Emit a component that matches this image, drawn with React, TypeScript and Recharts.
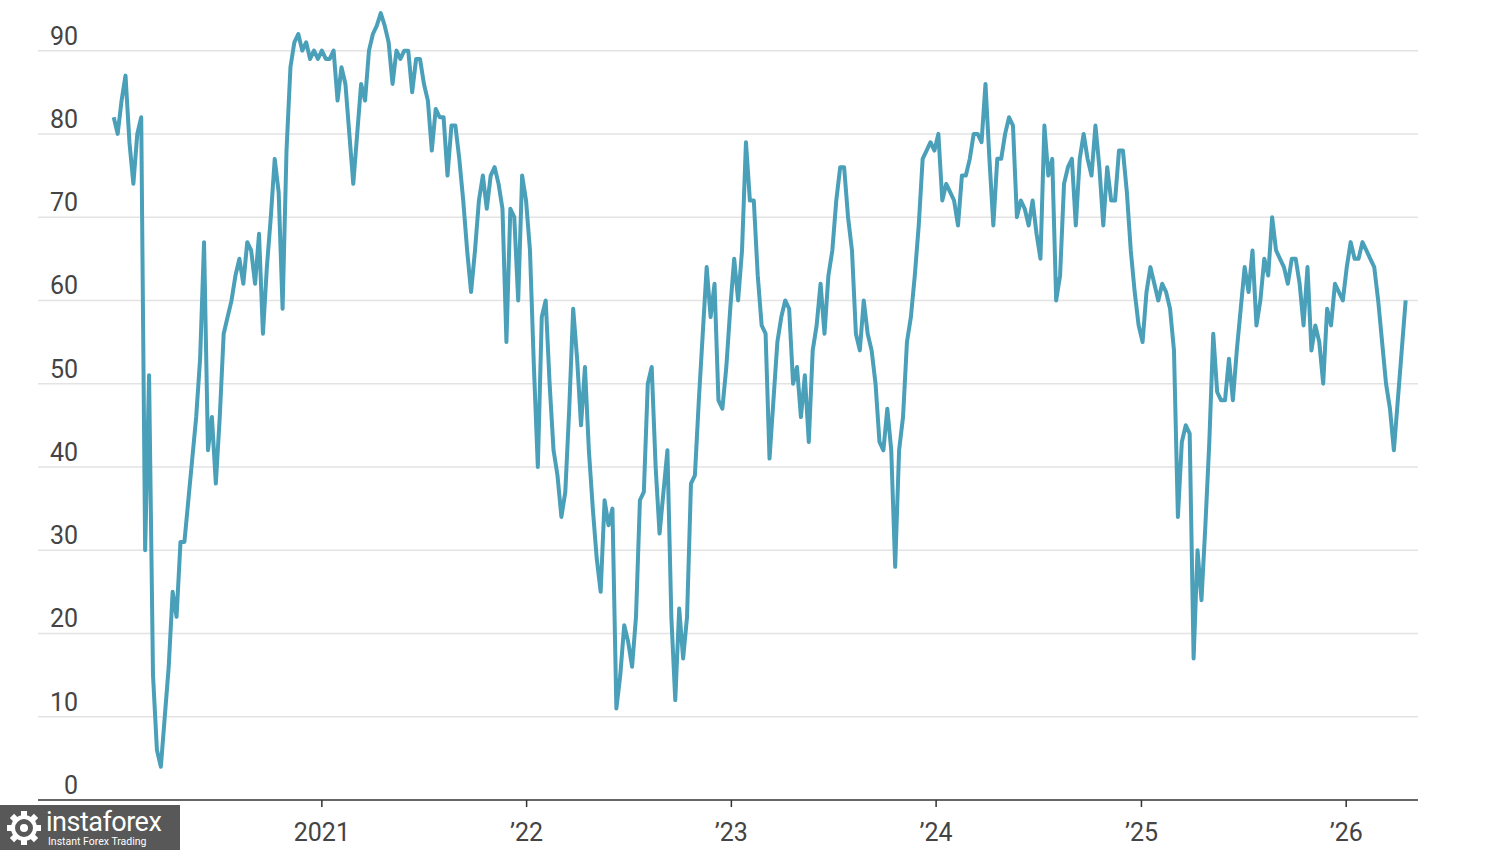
import React from "react";
import { LineChart, Line, XAxis, YAxis, CartesianGrid } from "recharts";

// weekly readings, one array per calendar year (first point: late Dec 2019)
const v2020 = [82, 80, 84, 87, 79, 74, 80, 82, 30, 51, 15, 6, 4, 10, 16, 25, 22, 31, 31, 36, 41, 46, 53, 67, 42, 46, 38, 46, 56, 58, 60, 63, 65, 62, 67, 66, 62, 68, 56, 64, 70, 77, 73, 59, 78, 88, 91, 92, 90, 91, 89, 90, 89];
const v2021 = [90, 89, 89, 90, 84, 88, 86, 80, 74, 80, 86, 84, 90, 92, 93, 94.5, 93, 91, 86, 90, 89, 90, 90, 85, 89, 89, 86, 84, 78, 83, 82, 82, 75, 81, 81, 77, 72, 66, 61, 66, 72, 75, 71, 75, 76, 74, 71, 55, 71, 70, 60, 75];
const v2022 = [72, 66, 52, 40, 58, 60, 50, 42, 39, 34, 37, 47, 59, 53, 45, 52, 42, 35, 29, 25, 36, 33, 35, 11, 15, 21, 19, 16, 22, 36, 37, 50, 52, 40, 32, 37, 42, 22, 12, 23, 17, 22, 38, 39, 48, 56, 64, 58, 62, 48, 47, 52];
const v2023 = [59, 65, 60, 66, 79, 72, 72, 63, 57, 56, 41, 48, 55, 58, 60, 59, 50, 52, 46, 51, 43, 54, 57, 62, 56, 63, 66, 72, 76, 76, 70, 66, 56, 54, 60, 56, 54, 50, 43, 42, 47, 42, 28, 42, 46, 55, 58, 63, 69, 77, 78, 79];
const v2024 = [78, 80, 72, 74, 73, 72, 69, 75, 75, 77, 80, 80, 79, 86, 77, 69, 77, 77, 80, 82, 81, 70, 72, 71, 69, 72, 68, 65, 81, 75, 77, 60, 63, 74, 76, 77, 69, 77, 80, 77, 75, 81, 76, 69, 76, 72, 72, 78, 78, 73, 66, 61];
const v2025 = [57, 55, 61, 64, 62, 60, 62, 61, 59, 54, 34, 43, 45, 44, 17, 30, 24, 33, 43, 56, 49, 48, 48, 53, 48, 54, 59, 64, 61, 66, 57, 60, 65, 63, 70, 66, 65, 64, 62, 65, 65, 62, 57, 64, 54, 57, 55, 50, 59, 57, 62, 61];
const v2026 = [60, 64, 67, 65, 65, 67, 66, 65, 64, 60, 55, 50, 47, 42, 48, 54, 60];

const values = [...v2020, ...v2021, ...v2022, ...v2023, ...v2024, ...v2025, ...v2026];

const START = Date.UTC(2019, 11, 27);
const WEEK = 7 * 24 * 3600 * 1000;
const data = values.map((v, i) => ({ t: START + i * WEEK, v }));

const yTicks = [0, 10, 20, 30, 40, 50, 60, 70, 80, 90];
const gridValues = [10, 20, 30, 40, 50, 60, 70, 80, 90];
const tickYears = [2021, 2022, 2023, 2024, 2025, 2026];
const xTicks = tickYears.map((y) => Date.UTC(y, 0, 1));
const xDomain = [Date.UTC(2019, 7, 14), Date.UTC(2026, 4, 9)];

const FONT = "Roboto, 'Liberation Sans', sans-serif";
const LABEL = "#444444";

const YTick = (props: any) => {
  const { y, payload } = props;
  return (
    <text x={78} y={y - 6} textAnchor="end" fill={LABEL} fontSize={25} fontFamily={FONT}>
      {payload.value}
    </text>
  );
};

const XTick = (props: any) => {
  const { x, y, payload } = props;
  const yr = new Date(payload.value).getUTCFullYear();
  const label = yr === 2021 ? "2021" : "\u2019" + String(yr).slice(2);
  return (
    <text x={x} y={y + 32} textAnchor="middle" fill={LABEL} fontSize={25} fontFamily={FONT}>
      {label}
    </text>
  );
};

function Watermark() {
  const teeth = [0, 45, 90, 135, 180, 225, 270, 315];
  return (
    <div
      style={{
        position: "absolute",
        left: 0,
        top: 805,
        width: 180,
        height: 45,
        background: "rgba(70,70,70,0.9)",
        color: "#fff",
        fontFamily: FONT,
      }}
    >
      <svg width={40} height={40} style={{ position: "absolute", left: 4, top: 3 }}>
        <g transform="translate(20,20)">
          {teeth.map((a) => (
            <rect key={a} x={-3} y={-17} width={6} height={8} fill="#fff" transform={`rotate(${a})`} />
          ))}
          <circle r={11} fill="none" stroke="#fff" strokeWidth={4} />
          <circle r={4} fill="#fff" />
        </g>
      </svg>
      <div style={{ position: "absolute", left: 46, top: 2, fontSize: 27, lineHeight: "30px", letterSpacing: -0.5 }}>
        instaforex
      </div>
      <div style={{ position: "absolute", left: 48, top: 31, fontSize: 10.5, lineHeight: "12px" }}>
        Instant Forex Trading
      </div>
    </div>
  );
}

export default function App() {
  return (
    <div style={{ position: "absolute", left: 0, top: 0, width: 1500, height: 850, background: "#fff" }}>
      <LineChart width={1500} height={850} data={data} margin={{ top: 9, right: 82, bottom: 20, left: 38 }}>
        <CartesianGrid
          horizontal={true}
          vertical={false}
          horizontalValues={gridValues}
          stroke="#e3e3e3"
          strokeWidth={1.5}
        />
        <XAxis
          dataKey="t"
          type="number"
          domain={xDomain}
          ticks={xTicks}
          height={30}
          axisLine={{ stroke: "#333", strokeWidth: 1.5 }}
          tickLine={{ stroke: "#333", strokeWidth: 1.5 }}
          tickSize={7}
          tickMargin={2}
          tick={<XTick />}
          interval={0}
        />
        <YAxis
          type="number"
          domain={[0, 95]}
          ticks={yTicks}
          mirror={true}
          axisLine={false}
          tickLine={false}
          tick={<YTick />}
          interval={0}
        />
        <Line
          type="linear"
          dataKey="v"
          stroke="#4a9fb9"
          strokeWidth={4}
          dot={false}
          strokeLinejoin="round"
          isAnimationActive={false}
        />
      </LineChart>
      <Watermark />
    </div>
  );
}
